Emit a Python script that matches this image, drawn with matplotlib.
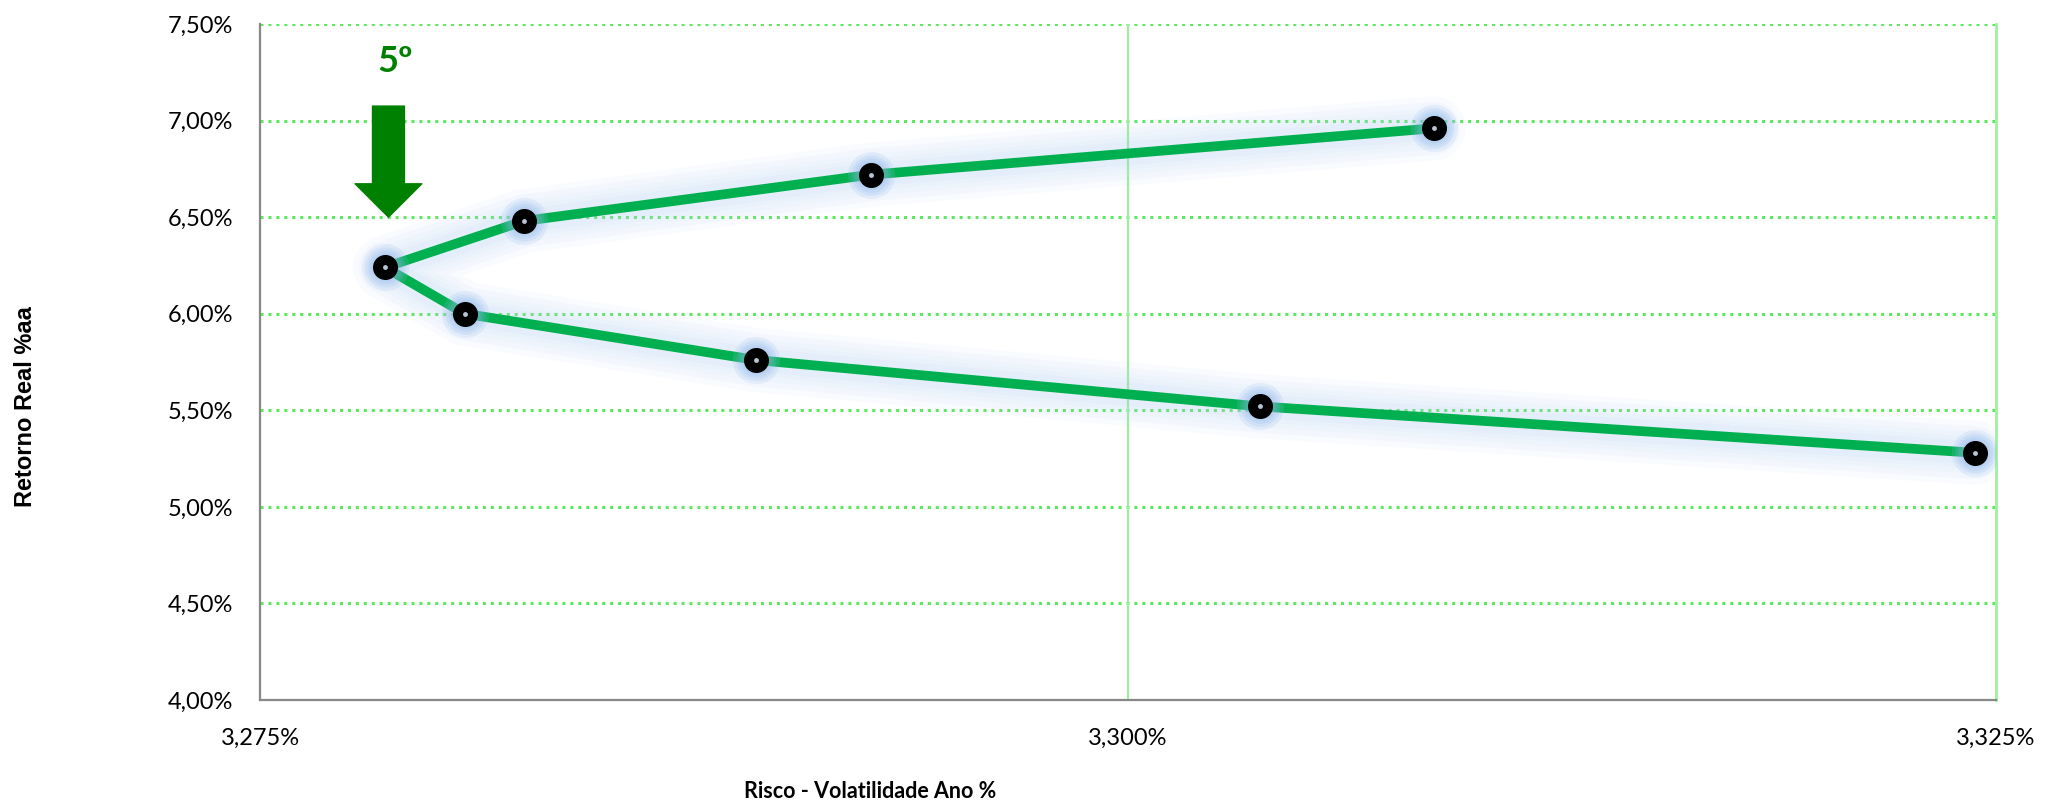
import numpy as np
import matplotlib.pyplot as plt
from matplotlib.ticker import FuncFormatter

# fronteira eficiente (risco x retorno), na ordem da linha
risco = [3.3088, 3.2926, 3.2826, 3.2786, 3.2809, 3.2893, 3.3038, 3.3244]
retorno = [6.96, 6.72, 6.48, 6.24, 6.00, 5.76, 5.52, 5.28]

y_ticks = [4.0, 4.5, 5.0, 5.5, 6.0, 6.5, 7.0, 7.5]
x_ticks = [3.275, 3.300, 3.325]

destaque_x = 3.2787  # carteira marcada com a seta
destaque_label = '5º'

plt.rcParams['font.family'] = ['Lato', 'DejaVu Sans']

fig = plt.figure(figsize=(20.56, 8.11), dpi=100)
ax = fig.add_axes([260 / 2056, 1 - 700 / 811, 1736 / 2056, 676 / 811])

ax.set_xlim(3.275, 3.325)
ax.set_ylim(4.0, 7.5)

# grade
for v in y_ticks[1:]:
    ax.axhline(v, color='#5ee85e', lw=2.2, ls=(0, (1, 1.6)), zorder=1)
ax.axvline(3.300, color='#9fef9f', lw=1.6, zorder=1)

ax.spines['top'].set_visible(False)
ax.spines['right'].set_color('#9fef9f')
ax.spines['right'].set_linewidth(2)
ax.spines['left'].set_color('#888888')
ax.spines['bottom'].set_color('#888888')
ax.spines['left'].set_linewidth(1.6)
ax.spines['bottom'].set_linewidth(1.6)

# brilho azul em volta da linha
for w in [46, 38, 30, 23, 17]:
    ax.plot(risco, retorno, color='#b0cdf2', lw=w, alpha=0.07,
            solid_capstyle='round', solid_joinstyle='round', zorder=2)
ax.plot(risco, retorno, color='#00b050', lw=7, solid_joinstyle='round', zorder=3)

for m in [34, 29, 25, 21]:
    ax.plot(risco, retorno, ls='none', marker='o', ms=m, color='#8fb8ee',
            alpha=0.17, mec='none', zorder=3)
ax.plot(risco, retorno, ls='none', marker='o', ms=17, color='black', zorder=4)
ax.plot(risco, retorno, ls='none', marker='o', ms=3.5, color='#b8c4d4', mec='none', zorder=5)

# seta e rótulo
ax.annotate('', xy=(destaque_x, 6.50), xytext=(destaque_x, 7.075),
            arrowprops=dict(arrowstyle='simple,head_length=2.4,head_width=4.8,tail_width=2.3',
                            color='#008000', shrinkA=0, shrinkB=0, mutation_scale=10),
            zorder=6)
ax.text(3.27889, 7.305, destaque_label, color='#008000', fontsize=26,
        fontweight='bold', ha='center', va='center')

ax.set_yticks(y_ticks)
ax.set_xticks(x_ticks)
ax.yaxis.set_major_formatter(FuncFormatter(lambda v, p: f'{v:.2f}%'.replace('.', ',')))
ax.xaxis.set_major_formatter(FuncFormatter(lambda v, p: f'{v:.3f}%'.replace('.', ',')))
ax.tick_params(axis='both', length=0, labelsize=17)
ax.tick_params(axis='y', pad=19)
ax.tick_params(axis='x', pad=20)

fig.text(870 / 2056, 1 - 792 / 811, 'Risco - Volatilidade Ano %', fontsize=15.5,
         fontweight='bold', ha='center', va='center')
fig.text(26 / 2056, 1 - 407 / 811, 'Retorno Real %aa', fontsize=17,
         fontweight='bold', ha='center', va='center', rotation=90,
         family=['Liberation Sans', 'DejaVu Sans'])

fig.savefig('out.png', dpi=100)
